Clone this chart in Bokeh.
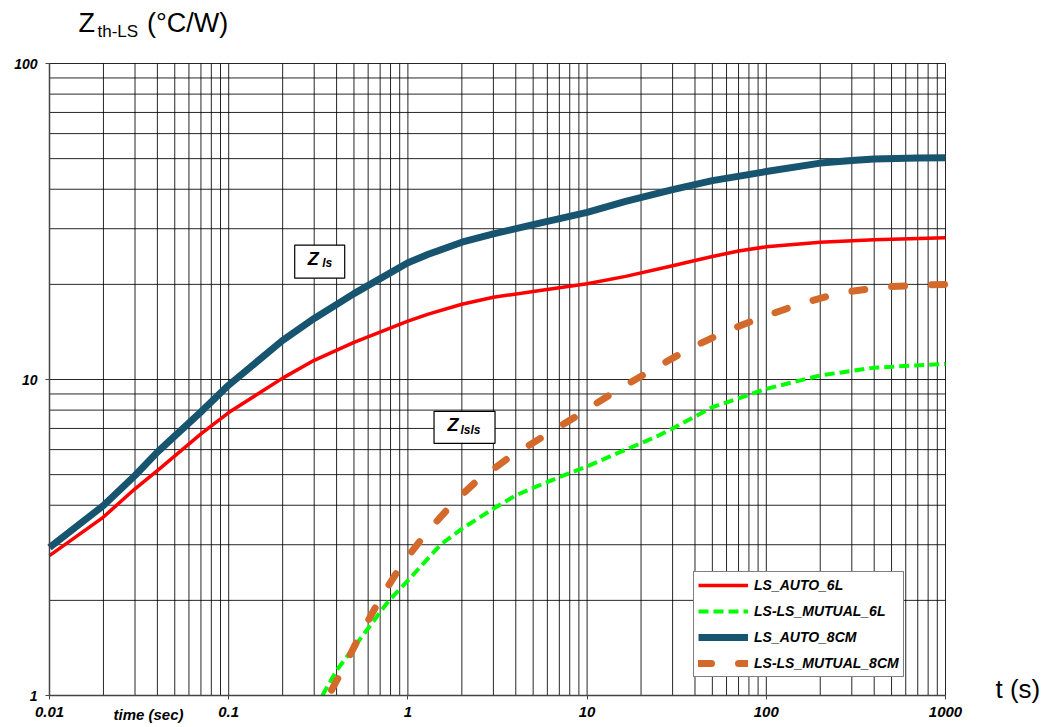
from bokeh.plotting import figure
from bokeh.models import (Range1d, FixedTicker, CustomJSTickFormatter, LogAxis,
                          Legend, LegendItem)
from bokeh.core.properties import value
from bokeh.embed import file_html
from bokeh.resources import INLINE

# ---------------- data ----------------
t_auto_6l = [0.01, 0.02, 0.03, 0.04, 0.07, 0.1, 0.2, 0.3, 0.5, 1.0, 1.3, 2.0, 3.0,
             5.0, 10, 16.4, 30, 40, 50, 70, 100, 200, 400, 1000]
z_auto_6l = [2.77, 3.67, 4.51, 5.15, 6.73, 7.86, 10.1, 11.5, 13.1, 15.3, 16.1, 17.3, 18.2,
             19.0, 20.1, 21.2, 22.9, 23.8, 24.5, 25.5, 26.3, 27.2, 27.7, 28.1]

t_mutual_6l = [0.333, 0.4, 0.5, 0.785, 1.0, 1.52, 2.0, 3.0, 4.0, 5.0, 7.0, 10, 13.8,
               24, 30, 50, 100, 200, 400, 1000]
z_mutual_6l = [1.0, 1.20, 1.42, 2.0, 2.31, 3.0, 3.37, 3.90, 4.30, 4.54, 4.91, 5.31, 5.75,
               6.57, 7.0, 8.17, 9.34, 10.3, 10.9, 11.2]

t_auto_8cm = [0.01, 0.02, 0.03, 0.04, 0.07, 0.1, 0.2, 0.3, 0.5, 1.0, 1.3, 2.0, 3.0,
              5.0, 10, 16.4, 30, 50, 100, 200, 300, 400, 700, 1000]
z_auto_8cm = [2.94, 3.99, 4.97, 5.89, 7.9, 9.6, 13.3, 15.6, 18.7, 23.4, 24.9, 27.2, 28.9,
              30.9, 33.8, 36.6, 39.9, 42.6, 45.5, 48.4, 49.3, 49.9, 50.2, 50.3]

t_mutual_8cm = [0.375, 0.43, 0.54, 0.696, 0.92, 1.256, 1.79, 2.36, 3.58, 5.57, 8.69,
                15.1, 23.5, 37.1, 59.4, 96.6, 157, 259, 437, 730, 1000]
z_mutual_8cm = [1.04, 1.20, 1.55, 2.01, 2.59, 3.25, 4.07, 4.71, 5.61, 6.55, 7.65,
                9.34, 10.8, 12.5, 14.2, 15.8, 17.4, 18.8, 19.6, 19.9, 20.0]

series_names = ["LS_AUTO_6L", "LS-LS_MUTUAL_6L", "LS_AUTO_8CM", "LS-LS_MUTUAL_8CM"]

x_lim = [0.01, 1000]
y_lim = [1, 100]
x_major = [0.01, 0.1, 1, 10, 100, 1000]
x_minor = [m * 10.0 ** e for e in range(-2, 3) for m in range(2, 10)]
y_major = [1, 10, 100]
y_minor = [m * 10.0 ** e for e in range(0, 2) for m in range(2, 10)]

note_t = [0.322, 2.07]
note_z = [23.6, 7.06]
note_sub = ["ls", "lsls"]

FONT = "Liberation Sans"

# ---------------- layout geometry (pixels) ----------------
W, H = 1051, 727
PL, PR, PT, PB = 49, 945, 63, 695          # plot-area edges inside the canvas
dx = (PR - PL) / 5.0                        # pixels per decade (x)
dy = (PB - PT) / 2.0                        # pixels per decade (y)
x_start = 10 ** (-2 - PL / dx)
x_end = 10 ** (-2 + (W - PL) / dx)
y_start = 10 ** (-(H - PB) / dy)
y_end = 10 ** (PB / dy)

p = figure(width=W, height=H, x_axis_type="log", y_axis_type="log",
           x_axis_location=None, y_axis_location=None,
           x_range=Range1d(x_start, x_end), y_range=Range1d(y_start, y_end),
           output_backend="svg", toolbar_location=None, min_border=0)
p.background_fill_color = "white"
p.border_fill_color = "white"
p.outline_line_color = None
p.grid.visible = False

# ---------------- grid (plot area only) ----------------
gx = x_major + x_minor
gy = y_major + y_minor
p.segment(x0=gx, x1=gx, y0=[y_lim[0]] * len(gx), y1=[y_lim[1]] * len(gx),
          line_color="black", line_width=1, line_alpha=0.85, level="underlay")
p.segment(x0=[x_lim[0]] * len(gy), x1=[x_lim[1]] * len(gy), y0=gy, y1=gy,
          line_color="black", line_width=1, line_alpha=0.85, level="underlay")

# ---------------- axes fixed at the plot-area edges ----------------
fmt = CustomJSTickFormatter(code="return String(tick)")
xax = LogAxis(fixed_location=y_lim[0], bounds=(x_lim[0], x_lim[1]),
              ticker=FixedTicker(ticks=x_major, minor_ticks=x_minor), formatter=fmt)
yax = LogAxis(fixed_location=x_lim[0], bounds=(y_lim[0], y_lim[1]),
              ticker=FixedTicker(ticks=y_major, minor_ticks=y_minor), formatter=fmt)
for ax in (xax, yax):
    ax.axis_line_color = "#444444"
    ax.axis_line_width = 1.5
    ax.major_tick_out = 4
    ax.major_tick_in = 0
    ax.major_tick_line_color = "#444444"
    ax.minor_tick_out = 0
    ax.minor_tick_in = 0
    ax.major_label_text_font = FONT
    ax.major_label_text_font_style = "bold italic"
    ax.major_label_text_color = "black"
xax.major_label_text_font_size = "15px"
xax.major_label_standoff = 7
yax.major_label_text_font_size = "14px"
yax.major_label_standoff = 8
p.add_layout(xax, "below")
p.add_layout(yax, "left")

# ---------------- curves ----------------
r_auto_6l = p.line(t_auto_6l, z_auto_6l, line_color="#ff0000", line_width=3.5,
                   line_join="round")
r_mut_6l = p.line(t_mutual_6l, z_mutual_6l, line_color="#00ff00", line_width=4,
                  line_dash="10 5", line_join="round")
r_auto_8cm = p.line(t_auto_8cm, z_auto_8cm, line_color="#17546f", line_width=7,
                    line_join="round")
r_mut_8cm = p.line(t_mutual_8cm, z_mutual_8cm, line_color="#d4692c", line_width=7,
                   line_dash="13 27", line_cap="round", line_join="round")

legend = Legend(items=[LegendItem(label=n, renderers=[r]) for n, r in
                       zip(series_names, [r_auto_6l, r_mut_6l, r_auto_8cm, r_mut_8cm])],
                location=(693, H - 677))
legend.label_text_font = FONT
legend.label_text_font_style = "bold italic"
legend.label_text_font_size = "14px"
legend.label_text_color = "black"
legend.glyph_width = 50
legend.glyph_height = 18
legend.label_height = 18
legend.spacing = 8
legend.padding = 4
legend.margin = 0
legend.label_standoff = 6
legend.border_line_color = "black"
legend.border_line_width = 1
legend.background_fill_color = "white"
legend.background_fill_alpha = 1
p.add_layout(legend)


def txt(x, y, text, xo, yo, size, style="normal"):
    p.text(x=[x], y=[y], text=[text], x_offset=xo, y_offset=yo,
           text_font=value(FONT), text_font_size=size, text_font_style=style,
           text_align="left", text_baseline="alphabetic", text_color="black")


# ---------------- annotation boxes ----------------
p.rect(x=note_t, y=note_z, width=[50, 61], height=[33, 32], width_units="screen",
       height_units="screen", fill_color="white", line_color="black", line_width=1.2)
for (tx, zy, sub, zo, so) in zip(note_t, note_z, note_sub, [(-12, -3), (-17, -2.5)],
                                 [(2.5, 1.5), (-4, 2.5)]):
    txt(tx, zy, "Z", zo[0], zo[1], "18px", "bold italic")
    txt(tx, zy, sub, so[0], so[1], "12px", "bold italic")

# title pieces anchored to the top-left corner of the plot area
txt(x_lim[0], y_lim[1], "Z", 29, -41, "27px")
txt(x_lim[0], y_lim[1], "th-LS", 48, -32.5, "17px")
txt(x_lim[0], y_lim[1], "(°C/W)", 97.5, -41, "27px")
# axis texts
txt(x_lim[1], y_lim[0], "t (s)", 50, -7, "26px")
txt(x_lim[0], y_lim[0], "time (sec)", 64, 18.5, "15px", "bold italic")

open("out.html", "w").write(file_html(p, INLINE))
